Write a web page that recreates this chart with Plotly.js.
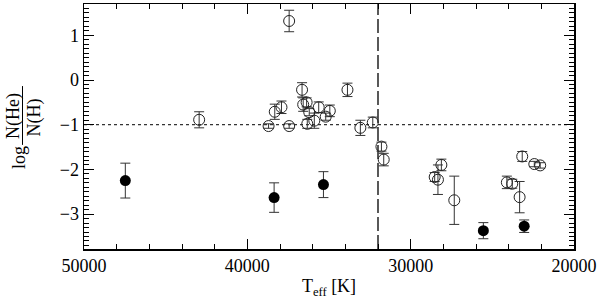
<!DOCTYPE html>
<html>
<head>
<meta charset="utf-8">
<script src="https://cdn.plot.ly/plotly-3.0.1.min.js"></script>
<style>html,body{margin:0;padding:0;background:#fff;}#chart{width:600px;height:299px;}</style>
</head>
<body>
<div id="chart"></div>
<script>
// Open symbols: Teff [K], log N(He)/N(H), error
var openTeff = [37440, 36650, 33870, 38320, 37910, 38700, 37440, 36580, 36370, 36210,
                36330, 35900, 35630, 35200, 34950, 33080, 32320, 42950, 31790, 31650,
                28120, 28530, 28330, 27330, 23170, 22430, 22070, 24110, 23780, 23330];
var openLogHe = [1.32, -0.22, -0.22, -0.71, -0.61, -1.03, -1.03, -0.55, -0.50, -0.72,
                 -0.98, -0.91, -0.61, -0.82, -0.69, -1.07, -0.95, -0.89, -1.49, -1.78,
                 -1.90, -2.17, -2.23, -2.69, -1.71, -1.88, -1.91, -2.29, -2.32, -2.62];
var openErr = [0.24, 0.16, 0.15, 0.17, 0.14, 0.05, 0.05, 0.15, 0.10, 0.08,
               0.10, 0.17, 0.12, 0.08, 0.13, 0.17, 0.12, 0.18, 0.10, 0.14,
               0.13, 0.10, 0.33, 0.54, 0.11, 0.06, 0.06, 0.14, 0.10, 0.35];
// Filled symbols
var filledTeff = [47470, 38360, 35340, 25550, 23050];
var filledLogHe = [-2.25, -2.63, -2.34, -3.37, -3.27];
var filledErr = [0.39, 0.33, 0.29, 0.18, 0.14];
// Reference lines
var solarLogHe = -1;
var dividerTeff = 32000;
var xRange = [50000, 20000];
var yRange = [-3.78, 1.7];

var font = {family: 'Liberation Serif, Times New Roman, serif', size: 18, color: '#000'};

var traces = [
  {x: openTeff, y: openLogHe, type: 'scatter', mode: 'markers',
   marker: {symbol: 'circle-open', size: 11, color: '#222', line: {width: 1, color: '#222'}},
   error_y: {type: 'data', array: openErr, visible: true, color: '#333', thickness: 1, width: 5},
   showlegend: false, hoverinfo: 'skip'},
  {x: filledTeff, y: filledLogHe, type: 'scatter', mode: 'markers',
   marker: {symbol: 'circle', size: 11, color: '#000'},
   error_y: {type: 'data', array: filledErr, visible: true, color: '#333', thickness: 1, width: 5},
   showlegend: false, hoverinfo: 'skip'}
];

var axisCommon = {
  showgrid: false, zeroline: false, showline: true, linecolor: '#000', linewidth: 1.5,
  mirror: 'ticks', ticks: 'inside', ticklen: 10, tickwidth: 1, tickcolor: '#000',
  tickfont: font
};

var layout = {
  width: 600, height: 299,
  margin: {l: 84, r: 26, t: 4, b: 50},
  paper_bgcolor: '#fff', plot_bgcolor: '#fff',
  xaxis: Object.assign({}, axisCommon, {
    range: xRange, dtick: 10000, tick0: 0, tickformat: 'd',
    minor: {dtick: 2000, ticks: 'inside', ticklen: 5, tickcolor: '#000', tickwidth: 1},
    title: {text: 'T<sub>eff</sub> [K]', font: font, standoff: 4}
  }),
  yaxis: Object.assign({}, axisCommon, {
    range: yRange, dtick: 1, tick0: 0,
    minor: {dtick: 0.1, ticks: 'inside', ticklen: 5, tickcolor: '#000', tickwidth: 1}
  }),
  shapes: [
    {type: 'line', xref: 'paper', x0: 0, x1: 1, yref: 'y', y0: solarLogHe, y1: solarLogHe,
     line: {color: '#000', width: 1, dash: 'dot'}, layer: 'below'},
    {type: 'line', xref: 'x', x0: dividerTeff, x1: dividerTeff, yref: 'paper', y0: 0, y1: 1,
     line: {color: '#000', width: 1.3, dash: '14px,4px'}, layer: 'below'},
    {type: 'line', xref: 'paper', x0: -0.1255, x1: -0.1255, yref: 'paper', y0: 0.425, y1: 0.665,
     line: {color: '#000', width: 1}}
  ],
  annotations: [
    {text: 'log', xref: 'paper', yref: 'paper', x: -0.1327, y: 0.375, textangle: -90,
     showarrow: false, font: font, xanchor: 'center', yanchor: 'middle'},
    {text: 'N(He)', xref: 'paper', yref: 'paper', x: -0.1439, y: 0.545, textangle: -90,
     showarrow: false, font: font, xanchor: 'center', yanchor: 'middle'},
    {text: 'N(H)', xref: 'paper', yref: 'paper', x: -0.102, y: 0.537, textangle: -90,
     showarrow: false, font: font, xanchor: 'center', yanchor: 'middle'}
  ]
};

Plotly.newPlot('chart', traces, layout, {staticPlot: true, displayModeBar: false});
</script>
</body>
</html>
